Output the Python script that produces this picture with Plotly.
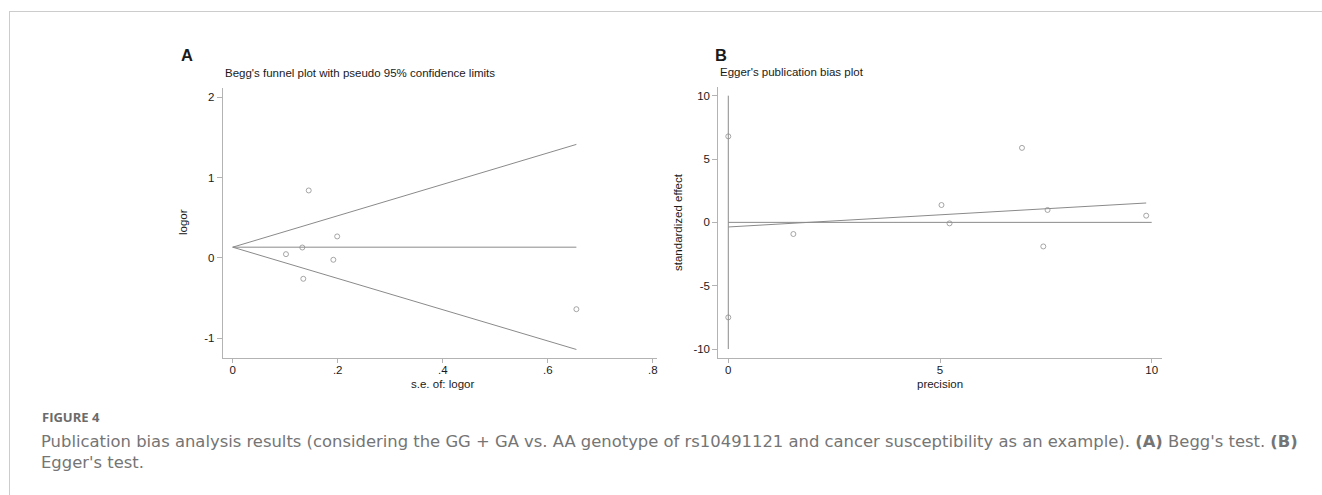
import plotly.graph_objects as go

# ---------------- data ----------------
# Panel A: Begg's funnel plot
begg_se = [0.1015, 0.1326, 0.1345, 0.1448, 0.1917, 0.199, 0.6545]
begg_logor = [0.045, 0.128, -0.262, 0.839, -0.025, 0.266, -0.641]
funnel_se = [0.0, 0.6545]
funnel_pooled = [0.132, 0.132]
funnel_upper = [0.132, 1.413]
funnel_lower = [0.132, -1.143]
begg_xticks = [0, 0.2, 0.4, 0.6, 0.8]
begg_xticktext = ["0", ".2", ".4", ".6", ".8"]
begg_yticks = [-1, 0, 1, 2]
begg_yticktext = ["-1", "0", "1", "2"]

# Panel B: Egger's publication bias plot
egger_precision = [0, 0, 1.537, 5.035, 5.225, 6.936, 7.44, 7.54, 9.87]
egger_effect = [6.79, -7.5, -0.92, 1.37, -0.08, 5.88, -1.90, 0.98, 0.53]
egger_reg_x = [0.0, 9.87]
egger_reg_y = [-0.363, 1.53]
egger_zero_x = [0.0, 10.0]
egger_zero_y = [0.0, 0.0]
egger_ci_x = [0.0, 0.0]
egger_ci_y = [-10.0, 10.0]
egger_xticks = [0, 5, 10]
egger_yticks = [-10, -5, 0, 5, 10]
egger_yticktext = ["-10", "-5", "0", "5", "10"]

caption_label = "FIGURE 4"
caption_text = ("Publication bias analysis results (considering the GG + GA vs. AA genotype of rs10491121 "
                "and cancer susceptibility as an example). <b>(A)</b> Begg's test. <b>(B)</b><br>Egger's test.")

# ---------------- layout helpers ----------------
W, H = 1322, 495
def px(x):
    return x / W
def py(y):
    return 1 - y / H

LINE_C = "#8a8a8a"
AXIS_C = "#b3b3b3"
MARK_C = "#8f8f8f"
TXT_C = "#1a1a1a"
FONT = "Liberation Sans, Arial, sans-serif"
CAP_FONT = "DejaVu Sans, sans-serif"
CAP_C = "#757575"

fig = go.Figure()

line_style = dict(color=LINE_C, width=1)
marker_style = dict(symbol="circle-open", size=5, color=MARK_C, line=dict(width=0.8, color=MARK_C))

# Panel A traces
fig.add_trace(go.Scatter(x=funnel_se, y=funnel_upper, mode="lines", line=line_style, xaxis="x", yaxis="y"))
fig.add_trace(go.Scatter(x=funnel_se, y=funnel_lower, mode="lines", line=line_style, xaxis="x", yaxis="y"))
fig.add_trace(go.Scatter(x=funnel_se, y=funnel_pooled, mode="lines", line=line_style, xaxis="x", yaxis="y"))
fig.add_trace(go.Scatter(x=begg_se, y=begg_logor, mode="markers", marker=marker_style, xaxis="x", yaxis="y"))

# Panel B traces
fig.add_trace(go.Scatter(x=egger_ci_x, y=egger_ci_y, mode="lines", line=line_style, xaxis="x2", yaxis="y2"))
fig.add_trace(go.Scatter(x=egger_zero_x, y=egger_zero_y, mode="lines", line=line_style, xaxis="x2", yaxis="y2"))
fig.add_trace(go.Scatter(x=egger_reg_x, y=egger_reg_y, mode="lines", line=line_style, xaxis="x2", yaxis="y2"))
fig.add_trace(go.Scatter(x=egger_precision, y=egger_effect, mode="markers", marker=marker_style, xaxis="x2", yaxis="y2"))

axis_common = dict(showgrid=False, zeroline=False, showline=True, linecolor=AXIS_C, linewidth=1,
                   ticks="outside", ticklen=5, tickcolor=AXIS_C, tickwidth=1,
                   tickfont=dict(family=FONT, size=11.5, color=TXT_C), fixedrange=True)
xaxis_extra = dict(ticklen=4, ticklabelstandoff=-3)

fig.update_layout(
    width=W, height=H,
    margin=dict(l=0, r=0, t=0, b=0),
    paper_bgcolor="white", plot_bgcolor="white",
    showlegend=False,
    xaxis=dict(domain=[px(222.7), px(657)], range=[-0.019, 0.808], tickvals=begg_xticks,
               ticktext=begg_xticktext, anchor="y", **{**axis_common, **xaxis_extra}),
    yaxis=dict(domain=[py(358.3), py(88)], range=[-1.253, 2.116], tickvals=begg_yticks,
               ticktext=begg_yticktext, anchor="x", **axis_common),
    xaxis2=dict(domain=[px(718.3), px(1161.7)], range=[-0.236, 10.236], tickvals=egger_xticks,
                anchor="y2", **{**axis_common, **xaxis_extra}),
    yaxis2=dict(domain=[py(358.3), py(86.7)], range=[-10.73, 10.71], tickvals=egger_yticks,
                ticktext=egger_yticktext, anchor="x2", **axis_common),
)

ann = []
def text(x, y, s, size, xanchor="center", yanchor="middle", angle=0, color=TXT_C, family=FONT, align="left"):
    ann.append(dict(x=px(x), y=py(y), xref="paper", yref="paper", text=s, showarrow=False,
                    xanchor=xanchor, yanchor=yanchor, textangle=angle, align=align,
                    font=dict(family=family, size=size, color=color)))

# panel letters
text(186.5, 54.5, "<b>A</b>", 16.5)
text(721, 54.5, "<b>B</b>", 16.5)
# titles
text(222.5, 73, "Begg's funnel plot with pseudo 95% confidence limits", 11.5, xanchor="left")
text(718, 72.5, "Egger's publication bias plot", 11.5, xanchor="left")
# axis titles
text(442.7, 384, "s.e. of: logor", 11.5)
text(183, 222, "logor", 11.5, angle=-90)
text(940, 384, "precision", 11.5)
text(678, 222, "standardized effect", 11.5, angle=-90)
# caption
text(40, 416.5, "<b>FIGURE 4</b>", 13, xanchor="left", color="#6b6b6b", family="Open Sans, sans-serif")
text(39, 451.5, caption_text, 16.4, xanchor="left", color=CAP_C, family=CAP_FONT)
fig.update_layout(annotations=ann)

# frame lines of the page
fig.add_shape(type="line", xref="paper", yref="paper", x0=px(9), x1=1, y0=py(11.5), y1=py(11.5),
              line=dict(color="#cccccc", width=1))
fig.add_shape(type="line", xref="paper", yref="paper", x0=px(9.5), x1=px(9.5), y0=py(11.5), y1=0,
              line=dict(color="#cccccc", width=1))

fig.write_html("out.html", post_script="document.body.style.margin='0';", config={"staticPlot": True})
